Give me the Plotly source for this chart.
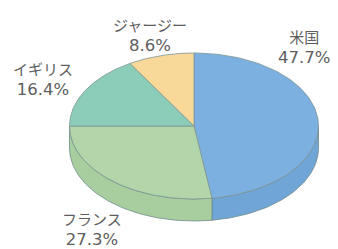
import numpy as np
import plotly.graph_objects as go

labels = ["米国", "フランス", "イギリス", "ジャージー"]
values = [47.7, 27.3, 16.4, 8.6]
pct_text = ["47.7%", "27.3%", "16.4%", "8.6%"]
top_colors = ["#7cb0e0", "#b2d6aa", "#8ccdb9", "#f8d99a"]
side_colors = ["#70a5d8", "#a8cea0", "#80c2ae", "#eccb8a"]

# geometry (pixels)
cx, cy, rx, ry, depth = 194, 126, 124.5, 73, 22
W, H = 338, 249
OFF = 8  # page body margin

def pt(theta_deg, dy=0.0):
    t = np.radians(theta_deg)
    return cx + rx * np.sin(t), cy - ry * np.cos(t) + dy

fig = go.Figure()
total = sum(values)
starts = np.cumsum([0] + values[:-1]) / total * 360
ends = np.cumsum(values) / total * 360

# side walls (front half 90..270)
for s, e, c in zip(starts, ends, side_colors):
    a, b = max(s, 90), min(e, 270)
    if b <= a:
        continue
    th = np.linspace(a, b, 80)
    x1, y1 = pt(th)
    x2, y2 = pt(th[::-1], depth)
    xs = np.concatenate([x1, x2, x1[:1]])
    ys = np.concatenate([y1, y2, y1[:1]])
    fig.add_trace(go.Scatter(x=xs, y=ys, mode="lines", fill="toself",
                             fillcolor=c, line=dict(color="#6f8a8a", width=0.8),
                             hoverinfo="skip", showlegend=False))

# top faces
for s, e, c in zip(starts, ends, top_colors):
    th = np.linspace(s, e, 120)
    x1, y1 = pt(th)
    xs = np.concatenate([[cx], x1, [cx]])
    ys = np.concatenate([[cy], y1, [cy]])
    fig.add_trace(go.Scatter(x=xs, y=ys, mode="lines", fill="toself",
                             fillcolor=c, line=dict(color="#7d9494", width=0.8),
                             hoverinfo="skip", showlegend=False))

# labels
label_pos = {
    "米国": (304, 46),
    "フランス": (92, 228),
    "イギリス": (43, 78),
    "ジャージー": (150, 34),
}
font = dict(family="Noto Sans CJK JP", size=15, color="#5e5e5e")
for lab, p in zip(labels, pct_text):
    x, y = label_pos[lab]
    txt = (lab + "<br><span style=\"font-family:'DejaVu Sans';font-size:16.5px\">"
           + p + "</span>")
    fig.add_annotation(x=x, y=y, text=txt, showarrow=False, font=font,
                       xanchor="center", yanchor="middle", align="center")

fig.update_layout(
    width=W, height=H, margin=dict(l=0, r=0, t=0, b=0),
    paper_bgcolor="white", plot_bgcolor="white",
    xaxis=dict(range=[OFF, W + OFF], visible=False, fixedrange=True),
    yaxis=dict(range=[H + OFF, OFF], visible=False, fixedrange=True),
)
fig.write_html("out.html")
